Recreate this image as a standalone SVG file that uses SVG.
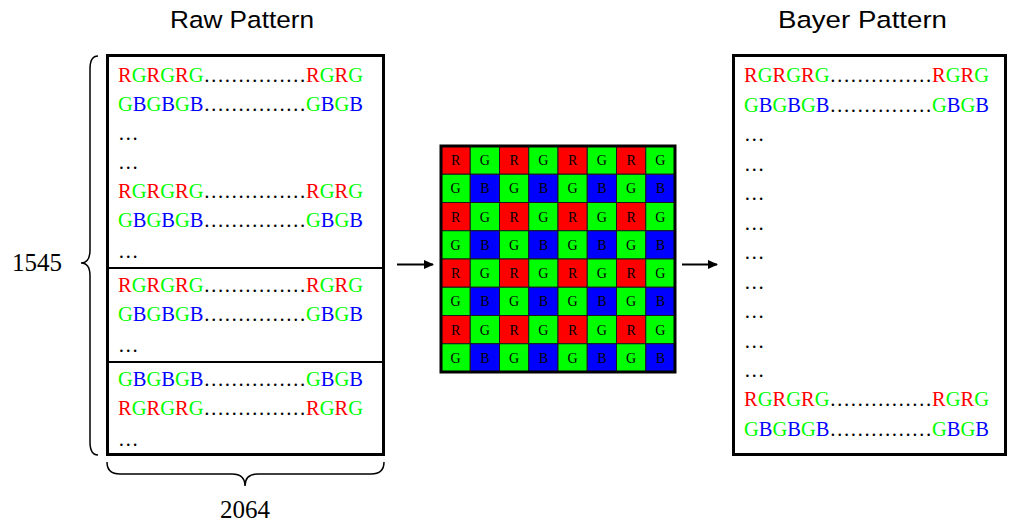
<svg xmlns="http://www.w3.org/2000/svg" width="1010" height="526" viewBox="0 0 1010 526">
<style>
.t{font-family:"Liberation Serif","Times New Roman",serif;font-size:20.5px;fill:#000}
.r{fill:#ff0000}.g{fill:#00ff00}.b{fill:#0000ff}.k{fill:#000}
.title{font-family:"Liberation Sans",Arial,sans-serif;font-size:24.5px;fill:#000}
.num{font-family:"Liberation Serif","Times New Roman",serif;font-size:25px;fill:#000}
.box{fill:#fff;stroke:#000;stroke-width:3}
.div{stroke:#000;stroke-width:2}
.cr{fill:#ff0000}.cg{fill:#00ff00}.cb{fill:#0000ff}
.cell{stroke:#1a1a1a;stroke-width:1}
.cl{font-family:"Liberation Serif","Times New Roman",serif;font-size:14px;fill:#000;text-anchor:middle}
.brace{fill:none;stroke:#000;stroke-width:1.5}
.arr{stroke:#000;stroke-width:2}
</style>
<defs>
<marker id="ah" markerWidth="10" markerHeight="10" refX="9" refY="5" orient="auto" markerUnits="userSpaceOnUse">
<path d="M0,0.5 L10,5 L0,9.5 Z" fill="#000"/>
</marker>
</defs>

<text class="title" x="170" y="28" textLength="144" lengthAdjust="spacingAndGlyphs">Raw Pattern</text>
<text class="title" x="778" y="28" textLength="169" lengthAdjust="spacingAndGlyphs">Bayer Pattern</text>

<g id="raw-pattern">
<rect class="box" x="107.5" y="55.5" width="276" height="399"/>
<line class="div" x1="107" y1="268" x2="384" y2="268"/>
<line class="div" x1="107" y1="362" x2="384" y2="362"/>
<text class="t" x="118" y="82"><tspan class="r">R</tspan><tspan class="g">G</tspan><tspan class="r">R</tspan><tspan class="g">G</tspan><tspan class="r">R</tspan><tspan class="g">G</tspan><tspan class="k">……………</tspan><tspan class="r">R</tspan><tspan class="g">G</tspan><tspan class="r">R</tspan><tspan class="g">G</tspan></text>
<text class="t" x="118" y="111"><tspan class="g">G</tspan><tspan class="b">B</tspan><tspan class="g">G</tspan><tspan class="b">B</tspan><tspan class="g">G</tspan><tspan class="b">B</tspan><tspan class="k">……………</tspan><tspan class="g">G</tspan><tspan class="b">B</tspan><tspan class="g">G</tspan><tspan class="b">B</tspan></text>
<text class="t" x="118" y="140">…</text>
<text class="t" x="118" y="169">…</text>
<text class="t" x="118" y="198"><tspan class="r">R</tspan><tspan class="g">G</tspan><tspan class="r">R</tspan><tspan class="g">G</tspan><tspan class="r">R</tspan><tspan class="g">G</tspan><tspan class="k">……………</tspan><tspan class="r">R</tspan><tspan class="g">G</tspan><tspan class="r">R</tspan><tspan class="g">G</tspan></text>
<text class="t" x="118" y="227"><tspan class="g">G</tspan><tspan class="b">B</tspan><tspan class="g">G</tspan><tspan class="b">B</tspan><tspan class="g">G</tspan><tspan class="b">B</tspan><tspan class="k">……………</tspan><tspan class="g">G</tspan><tspan class="b">B</tspan><tspan class="g">G</tspan><tspan class="b">B</tspan></text>
<text class="t" x="118" y="258">…</text>
<text class="t" x="118" y="292"><tspan class="r">R</tspan><tspan class="g">G</tspan><tspan class="r">R</tspan><tspan class="g">G</tspan><tspan class="r">R</tspan><tspan class="g">G</tspan><tspan class="k">……………</tspan><tspan class="r">R</tspan><tspan class="g">G</tspan><tspan class="r">R</tspan><tspan class="g">G</tspan></text>
<text class="t" x="118" y="321"><tspan class="g">G</tspan><tspan class="b">B</tspan><tspan class="g">G</tspan><tspan class="b">B</tspan><tspan class="g">G</tspan><tspan class="b">B</tspan><tspan class="k">……………</tspan><tspan class="g">G</tspan><tspan class="b">B</tspan><tspan class="g">G</tspan><tspan class="b">B</tspan></text>
<text class="t" x="118" y="352">…</text>
<text class="t" x="118" y="386"><tspan class="g">G</tspan><tspan class="b">B</tspan><tspan class="g">G</tspan><tspan class="b">B</tspan><tspan class="g">G</tspan><tspan class="b">B</tspan><tspan class="k">……………</tspan><tspan class="g">G</tspan><tspan class="b">B</tspan><tspan class="g">G</tspan><tspan class="b">B</tspan></text>
<text class="t" x="118" y="415"><tspan class="r">R</tspan><tspan class="g">G</tspan><tspan class="r">R</tspan><tspan class="g">G</tspan><tspan class="r">R</tspan><tspan class="g">G</tspan><tspan class="k">……………</tspan><tspan class="r">R</tspan><tspan class="g">G</tspan><tspan class="r">R</tspan><tspan class="g">G</tspan></text>
<text class="t" x="118" y="446">…</text>
</g>

<g id="height-brace">
<path class="brace" d="M98 56 Q90 56 90 69 L90 250 Q90 263 81 263 Q90 263 90 276 L90 442 Q90 455 98 455"/>
<text class="num" x="37" y="271" text-anchor="middle">1545</text>
</g>

<g id="width-brace">
<path class="brace" d="M107 462 Q107 474 120 474 L232 474 Q245 474 245 486 Q245 474 258 474 L371 474 Q384 474 384 462"/>
<text class="num" x="245" y="518" text-anchor="middle">2064</text>
</g>

<g id="bayer-grid">
<rect class="cr cell" x="441" y="146" width="29.25" height="28.25"/><text class="cl" x="455.6" y="165">R</text>
<rect class="cg cell" x="470.25" y="146" width="29.25" height="28.25"/><text class="cl" x="484.9" y="165">G</text>
<rect class="cr cell" x="499.5" y="146" width="29.25" height="28.25"/><text class="cl" x="514.1" y="165">R</text>
<rect class="cg cell" x="528.75" y="146" width="29.25" height="28.25"/><text class="cl" x="543.4" y="165">G</text>
<rect class="cr cell" x="558" y="146" width="29.25" height="28.25"/><text class="cl" x="572.6" y="165">R</text>
<rect class="cg cell" x="587.25" y="146" width="29.25" height="28.25"/><text class="cl" x="601.9" y="165">G</text>
<rect class="cr cell" x="616.5" y="146" width="29.25" height="28.25"/><text class="cl" x="631.1" y="165">R</text>
<rect class="cg cell" x="645.75" y="146" width="29.25" height="28.25"/><text class="cl" x="660.4" y="165">G</text>

<rect class="cg cell" x="441" y="174.25" width="29.25" height="28.25"/><text class="cl" x="455.6" y="193.25">G</text>
<rect class="cb cell" x="470.25" y="174.25" width="29.25" height="28.25"/><text class="cl" x="484.9" y="193.25">B</text>
<rect class="cg cell" x="499.5" y="174.25" width="29.25" height="28.25"/><text class="cl" x="514.1" y="193.25">G</text>
<rect class="cb cell" x="528.75" y="174.25" width="29.25" height="28.25"/><text class="cl" x="543.4" y="193.25">B</text>
<rect class="cg cell" x="558" y="174.25" width="29.25" height="28.25"/><text class="cl" x="572.6" y="193.25">G</text>
<rect class="cb cell" x="587.25" y="174.25" width="29.25" height="28.25"/><text class="cl" x="601.9" y="193.25">B</text>
<rect class="cg cell" x="616.5" y="174.25" width="29.25" height="28.25"/><text class="cl" x="631.1" y="193.25">G</text>
<rect class="cb cell" x="645.75" y="174.25" width="29.25" height="28.25"/><text class="cl" x="660.4" y="193.25">B</text>

<rect class="cr cell" x="441" y="202.5" width="29.25" height="28.25"/><text class="cl" x="455.6" y="221.5">R</text>
<rect class="cg cell" x="470.25" y="202.5" width="29.25" height="28.25"/><text class="cl" x="484.9" y="221.5">G</text>
<rect class="cr cell" x="499.5" y="202.5" width="29.25" height="28.25"/><text class="cl" x="514.1" y="221.5">R</text>
<rect class="cg cell" x="528.75" y="202.5" width="29.25" height="28.25"/><text class="cl" x="543.4" y="221.5">G</text>
<rect class="cr cell" x="558" y="202.5" width="29.25" height="28.25"/><text class="cl" x="572.6" y="221.5">R</text>
<rect class="cg cell" x="587.25" y="202.5" width="29.25" height="28.25"/><text class="cl" x="601.9" y="221.5">G</text>
<rect class="cr cell" x="616.5" y="202.5" width="29.25" height="28.25"/><text class="cl" x="631.1" y="221.5">R</text>
<rect class="cg cell" x="645.75" y="202.5" width="29.25" height="28.25"/><text class="cl" x="660.4" y="221.5">G</text>

<rect class="cg cell" x="441" y="230.75" width="29.25" height="28.25"/><text class="cl" x="455.6" y="249.75">G</text>
<rect class="cb cell" x="470.25" y="230.75" width="29.25" height="28.25"/><text class="cl" x="484.9" y="249.75">B</text>
<rect class="cg cell" x="499.5" y="230.75" width="29.25" height="28.25"/><text class="cl" x="514.1" y="249.75">G</text>
<rect class="cb cell" x="528.75" y="230.75" width="29.25" height="28.25"/><text class="cl" x="543.4" y="249.75">B</text>
<rect class="cg cell" x="558" y="230.75" width="29.25" height="28.25"/><text class="cl" x="572.6" y="249.75">G</text>
<rect class="cb cell" x="587.25" y="230.75" width="29.25" height="28.25"/><text class="cl" x="601.9" y="249.75">B</text>
<rect class="cg cell" x="616.5" y="230.75" width="29.25" height="28.25"/><text class="cl" x="631.1" y="249.75">G</text>
<rect class="cb cell" x="645.75" y="230.75" width="29.25" height="28.25"/><text class="cl" x="660.4" y="249.75">B</text>

<rect class="cr cell" x="441" y="259" width="29.25" height="28.25"/><text class="cl" x="455.6" y="278">R</text>
<rect class="cg cell" x="470.25" y="259" width="29.25" height="28.25"/><text class="cl" x="484.9" y="278">G</text>
<rect class="cr cell" x="499.5" y="259" width="29.25" height="28.25"/><text class="cl" x="514.1" y="278">R</text>
<rect class="cg cell" x="528.75" y="259" width="29.25" height="28.25"/><text class="cl" x="543.4" y="278">G</text>
<rect class="cr cell" x="558" y="259" width="29.25" height="28.25"/><text class="cl" x="572.6" y="278">R</text>
<rect class="cg cell" x="587.25" y="259" width="29.25" height="28.25"/><text class="cl" x="601.9" y="278">G</text>
<rect class="cr cell" x="616.5" y="259" width="29.25" height="28.25"/><text class="cl" x="631.1" y="278">R</text>
<rect class="cg cell" x="645.75" y="259" width="29.25" height="28.25"/><text class="cl" x="660.4" y="278">G</text>

<rect class="cg cell" x="441" y="287.25" width="29.25" height="28.25"/><text class="cl" x="455.6" y="306.25">G</text>
<rect class="cb cell" x="470.25" y="287.25" width="29.25" height="28.25"/><text class="cl" x="484.9" y="306.25">B</text>
<rect class="cg cell" x="499.5" y="287.25" width="29.25" height="28.25"/><text class="cl" x="514.1" y="306.25">G</text>
<rect class="cb cell" x="528.75" y="287.25" width="29.25" height="28.25"/><text class="cl" x="543.4" y="306.25">B</text>
<rect class="cg cell" x="558" y="287.25" width="29.25" height="28.25"/><text class="cl" x="572.6" y="306.25">G</text>
<rect class="cb cell" x="587.25" y="287.25" width="29.25" height="28.25"/><text class="cl" x="601.9" y="306.25">B</text>
<rect class="cg cell" x="616.5" y="287.25" width="29.25" height="28.25"/><text class="cl" x="631.1" y="306.25">G</text>
<rect class="cb cell" x="645.75" y="287.25" width="29.25" height="28.25"/><text class="cl" x="660.4" y="306.25">B</text>

<rect class="cr cell" x="441" y="315.5" width="29.25" height="28.25"/><text class="cl" x="455.6" y="334.5">R</text>
<rect class="cg cell" x="470.25" y="315.5" width="29.25" height="28.25"/><text class="cl" x="484.9" y="334.5">G</text>
<rect class="cr cell" x="499.5" y="315.5" width="29.25" height="28.25"/><text class="cl" x="514.1" y="334.5">R</text>
<rect class="cg cell" x="528.75" y="315.5" width="29.25" height="28.25"/><text class="cl" x="543.4" y="334.5">G</text>
<rect class="cr cell" x="558" y="315.5" width="29.25" height="28.25"/><text class="cl" x="572.6" y="334.5">R</text>
<rect class="cg cell" x="587.25" y="315.5" width="29.25" height="28.25"/><text class="cl" x="601.9" y="334.5">G</text>
<rect class="cr cell" x="616.5" y="315.5" width="29.25" height="28.25"/><text class="cl" x="631.1" y="334.5">R</text>
<rect class="cg cell" x="645.75" y="315.5" width="29.25" height="28.25"/><text class="cl" x="660.4" y="334.5">G</text>

<rect class="cg cell" x="441" y="343.75" width="29.25" height="28.25"/><text class="cl" x="455.6" y="362.75">G</text>
<rect class="cb cell" x="470.25" y="343.75" width="29.25" height="28.25"/><text class="cl" x="484.9" y="362.75">B</text>
<rect class="cg cell" x="499.5" y="343.75" width="29.25" height="28.25"/><text class="cl" x="514.1" y="362.75">G</text>
<rect class="cb cell" x="528.75" y="343.75" width="29.25" height="28.25"/><text class="cl" x="543.4" y="362.75">B</text>
<rect class="cg cell" x="558" y="343.75" width="29.25" height="28.25"/><text class="cl" x="572.6" y="362.75">G</text>
<rect class="cb cell" x="587.25" y="343.75" width="29.25" height="28.25"/><text class="cl" x="601.9" y="362.75">B</text>
<rect class="cg cell" x="616.5" y="343.75" width="29.25" height="28.25"/><text class="cl" x="631.1" y="362.75">G</text>
<rect class="cb cell" x="645.75" y="343.75" width="29.25" height="28.25"/><text class="cl" x="660.4" y="362.75">B</text>

<rect x="441" y="146" width="234" height="226" fill="none" stroke="#000" stroke-width="3"/>
</g>

<g id="bayer-pattern">
<rect class="box" x="733.5" y="55.5" width="272" height="399"/>
<text class="t" x="744" y="82"><tspan class="r">R</tspan><tspan class="g">G</tspan><tspan class="r">R</tspan><tspan class="g">G</tspan><tspan class="r">R</tspan><tspan class="g">G</tspan><tspan class="k">……………</tspan><tspan class="r">R</tspan><tspan class="g">G</tspan><tspan class="r">R</tspan><tspan class="g">G</tspan></text>
<text class="t" x="744" y="111.5"><tspan class="g">G</tspan><tspan class="b">B</tspan><tspan class="g">G</tspan><tspan class="b">B</tspan><tspan class="g">G</tspan><tspan class="b">B</tspan><tspan class="k">……………</tspan><tspan class="g">G</tspan><tspan class="b">B</tspan><tspan class="g">G</tspan><tspan class="b">B</tspan></text>
<text class="t" x="744" y="141">…</text>
<text class="t" x="744" y="170.5">…</text>
<text class="t" x="744" y="200">…</text>
<text class="t" x="744" y="229.5">…</text>
<text class="t" x="744" y="259">…</text>
<text class="t" x="744" y="288.5">…</text>
<text class="t" x="744" y="318">…</text>
<text class="t" x="744" y="347.5">…</text>
<text class="t" x="744" y="377">…</text>
<text class="t" x="744" y="406"><tspan class="r">R</tspan><tspan class="g">G</tspan><tspan class="r">R</tspan><tspan class="g">G</tspan><tspan class="r">R</tspan><tspan class="g">G</tspan><tspan class="k">……………</tspan><tspan class="r">R</tspan><tspan class="g">G</tspan><tspan class="r">R</tspan><tspan class="g">G</tspan></text>
<text class="t" x="744" y="436"><tspan class="g">G</tspan><tspan class="b">B</tspan><tspan class="g">G</tspan><tspan class="b">B</tspan><tspan class="g">G</tspan><tspan class="b">B</tspan><tspan class="k">……………</tspan><tspan class="g">G</tspan><tspan class="b">B</tspan><tspan class="g">G</tspan><tspan class="b">B</tspan></text>
</g>

<g id="connectors">
<line class="arr" x1="397" y1="264.5" x2="433" y2="264.5" marker-end="url(#ah)"/>
<line class="arr" x1="682" y1="264.5" x2="717" y2="264.5" marker-end="url(#ah)"/>
</g>
</svg>
